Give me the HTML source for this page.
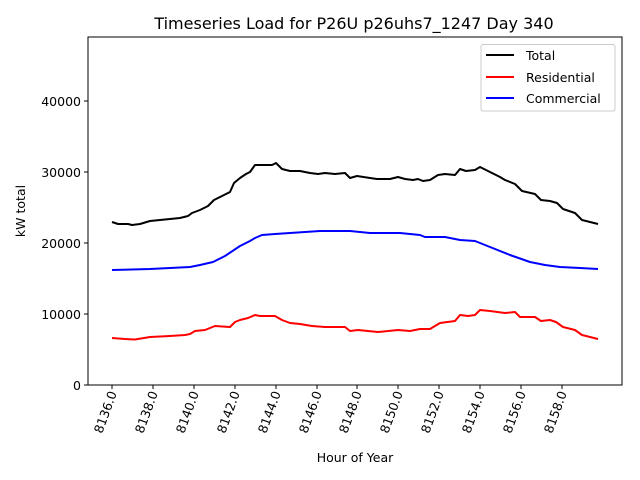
<!DOCTYPE html>
<html><head><style>body{margin:0;background:#fff}svg{display:block}text{font-family:"DejaVu Sans","Liberation Sans",sans-serif;fill:#000}</style></head>
<body>
<svg width="640" height="480" viewBox="0 0 640 480">
<rect width="640" height="480" fill="#fff"/>
<text x="354" y="29" font-size="16" text-anchor="middle">Timeseries Load for P26U p26uhs7_1247  Day 340</text>
<rect x="88" y="37" width="534" height="348" fill="none" stroke="#000" stroke-width="1"/>
<g font-size="12.5" text-anchor="end">
<line x1="84" y1="385" x2="88" y2="385" stroke="#000"/><text x="81" y="390">0</text>
<line x1="84" y1="314" x2="88" y2="314" stroke="#000"/><text x="81" y="319">10000</text>
<line x1="84" y1="243" x2="88" y2="243" stroke="#000"/><text x="81" y="248">20000</text>
<line x1="84" y1="172" x2="88" y2="172" stroke="#000"/><text x="81" y="177">30000</text>
<line x1="84" y1="101" x2="88" y2="101" stroke="#000"/><text x="81" y="106">40000</text>
</g>
<text transform="translate(25,211) rotate(-90)" font-size="12.5" text-anchor="middle">kW total</text>
<g stroke="#000">
<line x1="112" y1="385" x2="112" y2="389"/><line x1="153" y1="385" x2="153" y2="389"/><line x1="194" y1="385" x2="194" y2="389"/><line x1="235" y1="385" x2="235" y2="389"/><line x1="276" y1="385" x2="276" y2="389"/><line x1="317" y1="385" x2="317" y2="389"/><line x1="357" y1="385" x2="357" y2="389"/><line x1="398" y1="385" x2="398" y2="389"/><line x1="439" y1="385" x2="439" y2="389"/><line x1="480" y1="385" x2="480" y2="389"/><line x1="521" y1="385" x2="521" y2="389"/><line x1="562" y1="385" x2="562" y2="389"/>
</g>
<g font-size="12.5" text-anchor="end">
<text transform="translate(117,393) rotate(-70)">8136.0</text>
<text transform="translate(158,393) rotate(-70)">8138.0</text>
<text transform="translate(199,393) rotate(-70)">8140.0</text>
<text transform="translate(240,393) rotate(-70)">8142.0</text>
<text transform="translate(281,393) rotate(-70)">8144.0</text>
<text transform="translate(322,393) rotate(-70)">8146.0</text>
<text transform="translate(362,393) rotate(-70)">8148.0</text>
<text transform="translate(403,393) rotate(-70)">8150.0</text>
<text transform="translate(444,393) rotate(-70)">8152.0</text>
<text transform="translate(485,393) rotate(-70)">8154.0</text>
<text transform="translate(526,393) rotate(-70)">8156.0</text>
<text transform="translate(567,393) rotate(-70)">8158.0</text>
</g>
<text x="355" y="462" font-size="12.5" text-anchor="middle">Hour of Year</text>
<g fill="none" stroke-width="2" stroke-linejoin="round">
<polyline stroke="#000" points="112,222 118,224 128,224 132,225 140,224 150,221 160,220 170,219 180,218 188,216 192,213 200,210 208,206 214,200 222,196 230,192 234,183 240,178 246,174 250,172 255,165 265,165 272,165 276,163 282,169 290,171 300,171 310,173 318,174 325,173 335,174 345,173 350,178 357,176 370,178 377,179 390,179 398,177 405,179 413,180 418,179 423,181 430,180 438,175 445,174 455,175 460,169 466,171 475,170 480,167 490,172 500,177 505,180 515,184 522,191 535,194 541,200 550,201 557,203 563,209 575,213 582,220 590,222 598,224"/>
<polyline stroke="#00f" points="112,270 150,269 190,267 200,265 213,262 225,256 240,246 250,241 255,238 262,235 275,234 290,233 320,231 340,231 350,231 370,233 400,233 420,235 425,237 445,237 460,240 475,241 490,247 510,255 530,262 545,265 560,267 580,268 598,269"/>
<polyline stroke="#f00" points="112,338 125,339 135,339.5 150,337 170,336 185,335 190,334 195,331 205,330 210,328 215,326 230,327 235,322 240,320 248,318 255,315 260,316 275,316 282,320 290,323 300,324 312,326 325,327 345,327 350,331 358,330 378,332 398,330 410,331 420,329 430,329 440,323 455,321 460,315 468,316 475,315 480,310 490,311 505,313 515,312 520,317 535,317 541,321 550,320 556,322 563,327 575,330 582,335 598,339"/>
</g>
<rect x="481" y="44.5" width="134" height="66.5" rx="2" fill="#fff" fill-opacity="0.8" stroke="#ccc"/>
<g stroke-width="2"><line x1="486" y1="55" x2="514" y2="55" stroke="#000"/><line x1="486" y1="77" x2="514" y2="77" stroke="#f00"/><line x1="486" y1="98" x2="514" y2="98" stroke="#00f"/></g>
<g font-size="12.5"><text x="526" y="60">Total</text><text x="526" y="82">Residential</text><text x="526" y="103">Commercial</text></g>
</svg>
</body></html>
